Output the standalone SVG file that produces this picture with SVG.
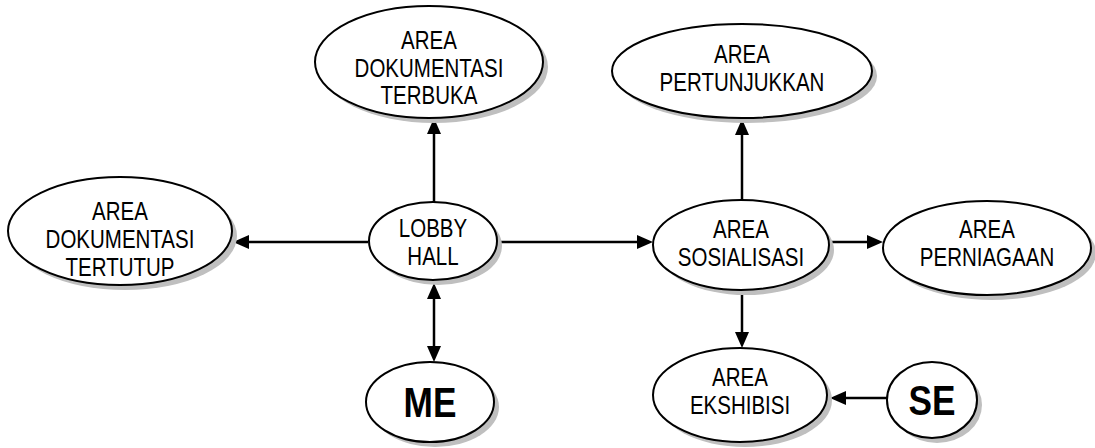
<svg xmlns="http://www.w3.org/2000/svg" width="1095" height="448" viewBox="0 0 1095 448">
  <style>
    .shadow { fill: #bfbfbf; stroke: none; }
    .node { fill: #ffffff; stroke: #000000; stroke-width: 2; }
    .lbl { font-family: "Liberation Sans", Arial, sans-serif; font-size: 25px; fill: #000000; text-anchor: middle; }
    .big { font-family: "Liberation Sans", Arial, sans-serif; font-size: 43px; font-weight: bold; fill: #000000; text-anchor: middle; }
    .edge { stroke: #000000; stroke-width: 2.5; fill: none; }
  </style>
  <defs>
    <marker id="arr" markerUnits="userSpaceOnUse" markerWidth="16" markerHeight="14" refX="6" refY="7" orient="auto-start-reverse" viewBox="0 0 16 14">
      <path d="M0,0 L16,7 L0,14 z" fill="#000000"/>
    </marker>
  </defs>
  <rect width="1095" height="448" fill="#ffffff"/>

  <g id="connectors">
    <path class="edge" d="M434,202 L434,128" marker-end="url(#arr)"/>
    <path class="edge" d="M368,242 L243,242" marker-end="url(#arr)"/>
    <path class="edge" d="M497,242 L643,242" marker-end="url(#arr)"/>
    <path class="edge" d="M434,293 L434,352" marker-start="url(#arr)" marker-end="url(#arr)"/>
    <path class="edge" d="M742,200 L742,129" marker-end="url(#arr)"/>
    <path class="edge" d="M828,242 L873,242" marker-end="url(#arr)"/>
    <path class="edge" d="M742,290 L742,338" marker-end="url(#arr)"/>
    <path class="edge" d="M887,398 L840,398" marker-end="url(#arr)"/>
  </g>

  <g id="area-dokumentasi-terbuka">
    <ellipse class="shadow" cx="434" cy="67" rx="114" ry="56"/>
    <ellipse class="node" cx="429" cy="62" rx="114" ry="56"/>
    <text class="lbl" transform="translate(429,49) scale(0.82,1)">AREA</text>
    <text class="lbl" transform="translate(429,77) scale(0.82,1)">DOKUMENTASI</text>
    <text class="lbl" transform="translate(429,104) scale(0.82,1)">TERBUKA</text>
  </g>

  <g id="area-dokumentasi-tertutup">
    <ellipse class="shadow" cx="125" cy="236" rx="112" ry="54"/>
    <ellipse class="node" cx="120" cy="231" rx="112" ry="54"/>
    <text class="lbl" transform="translate(120,220) scale(0.82,1)">AREA</text>
    <text class="lbl" transform="translate(120,248) scale(0.82,1)">DOKUMENTASI</text>
    <text class="lbl" transform="translate(120,276) scale(0.82,1)">TERTUTUP</text>
  </g>

  <g id="lobby-hall">
    <ellipse class="shadow" cx="438" cy="246" rx="64" ry="39"/>
    <ellipse class="node" cx="433" cy="241" rx="64" ry="39"/>
    <text class="lbl" transform="translate(433,237) scale(0.82,1)">LOBBY</text>
    <text class="lbl" transform="translate(433,265) scale(0.82,1)">HALL</text>
  </g>

  <g id="area-pertunjukkan">
    <ellipse class="shadow" cx="747" cy="76" rx="130" ry="47"/>
    <ellipse class="node" cx="742" cy="71" rx="130" ry="47"/>
    <text class="lbl" transform="translate(742,63) scale(0.82,1)">AREA</text>
    <text class="lbl" transform="translate(742,91) scale(0.82,1)">PERTUNJUKKAN</text>
  </g>

  <g id="area-sosialisasi">
    <ellipse class="shadow" cx="746" cy="250" rx="88" ry="45"/>
    <ellipse class="node" cx="741" cy="245" rx="88" ry="45"/>
    <text class="lbl" transform="translate(741,238) scale(0.82,1)">AREA</text>
    <text class="lbl" transform="translate(741,266) scale(0.82,1)">SOSIALISASI</text>
  </g>

  <g id="area-perniagaan">
    <ellipse class="shadow" cx="992" cy="253" rx="104" ry="47"/>
    <ellipse class="node" cx="987" cy="248" rx="104" ry="47"/>
    <text class="lbl" transform="translate(987,238) scale(0.82,1)">AREA</text>
    <text class="lbl" transform="translate(987,266) scale(0.82,1)">PERNIAGAAN</text>
  </g>

  <g id="area-ekshibisi">
    <ellipse class="shadow" cx="745" cy="400" rx="87" ry="47"/>
    <ellipse class="node" cx="740" cy="395" rx="87" ry="47"/>
    <text class="lbl" transform="translate(740,386) scale(0.82,1)">AREA</text>
    <text class="lbl" transform="translate(740,414) scale(0.82,1)">EKSHIBISI</text>
  </g>

  <g id="me">
    <ellipse class="shadow" cx="435" cy="407" rx="64" ry="40"/>
    <ellipse class="node" cx="430" cy="402" rx="64" ry="40"/>
    <text class="big" transform="translate(430,417) scale(0.82,1)">ME</text>
  </g>

  <g id="se">
    <ellipse class="shadow" cx="937" cy="405" rx="45" ry="38"/>
    <ellipse class="node" cx="932" cy="400" rx="45" ry="38"/>
    <text class="big" transform="translate(932,415) scale(0.82,1)">SE</text>
  </g>
</svg>
